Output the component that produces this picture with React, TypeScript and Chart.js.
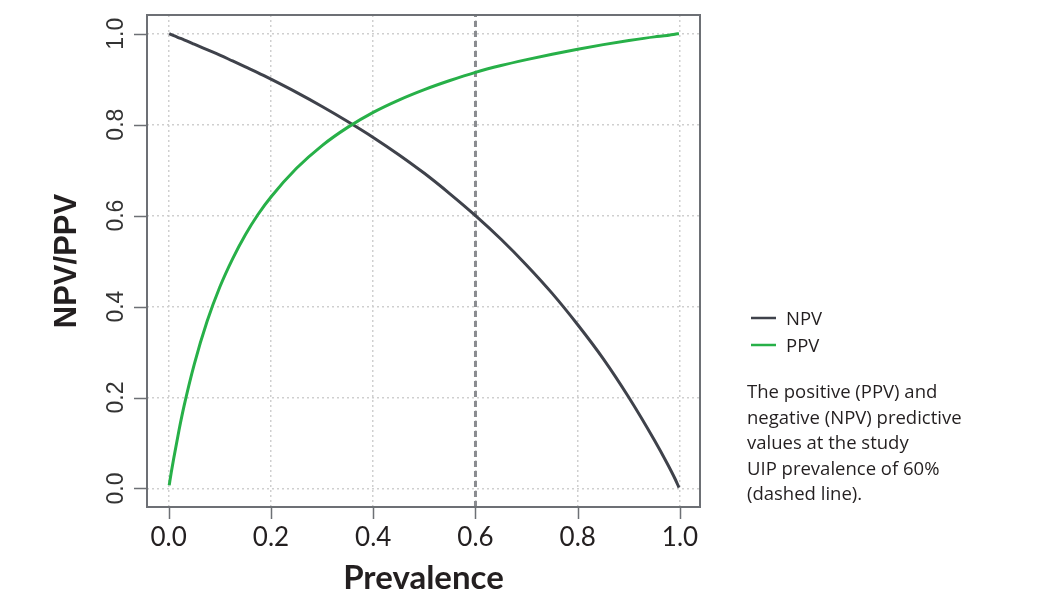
import React, { useEffect, useRef } from "react";
import { Chart, registerables } from "chart.js";

Chart.register(...registerables);

// Prevalence (x) and predictive values
const prevalence = [0.001, 0.005, 0.01, 0.02, 0.03, 0.05, 0.075, 0.1, 0.125, 0.15, 0.175, 0.2, 0.25, 0.3, 0.35, 0.4, 0.45, 0.5, 0.55, 0.6, 0.65, 0.7, 0.75, 0.8, 0.85, 0.9, 0.95, 0.975, 0.99, 0.998];
const npv = [1.0, 0.998, 0.9955, 0.991, 0.9865, 0.977, 0.965, 0.953, 0.94, 0.927, 0.914, 0.9, 0.871, 0.84, 0.807, 0.772, 0.734, 0.693, 0.648, 0.6, 0.548, 0.491, 0.429, 0.36, 0.285, 0.2, 0.106, 0.055, 0.022, 0.002];
const ppv = [0.007, 0.035, 0.067, 0.127, 0.181, 0.273, 0.367, 0.443, 0.505, 0.558, 0.603, 0.641, 0.704, 0.754, 0.794, 0.827, 0.854, 0.877, 0.897, 0.915, 0.93, 0.943, 0.955, 0.966, 0.976, 0.985, 0.993, 0.996, 0.999, 1.0];

const studyPrevalence = 0.6;

const xTicks = [0, 0.2, 0.4, 0.6, 0.8, 1.0];
const xTickLabels = ["0.0", "0.2", "0.4", "0.6", "0.8", "1.0"];
const yTicks = [0, 0.2, 0.4, 0.6, 0.8, 1.0];
const yTickLabels = ["0.0", "0.2", "0.4", "0.6", "0.8", "1.0"];

const seriesNames = ["NPV", "PPV"];
const seriesColors = ["#3f424b", "#27b048"];
const xTitle = "Prevalence";
const yTitle = "NPV/PPV";
const captionLines = [
  "The positive (PPV) and",
  "negative (NPV) predictive",
  "values at the study",
  "UIP prevalence of 60%",
  "(dashed line).",
];

const X_MIN = -0.0424;
const X_MAX = 1.0391;
const Y_MIN = -0.0407;
const Y_MAX = 1.0411;

const decorPlugin = {
  id: "decor",
  afterDraw(chart: any) {
    const ctx = chart.ctx as CanvasRenderingContext2D;
    const { left, right, top, bottom } = chart.chartArea;
    const xs = chart.scales.x;
    const ys = chart.scales.y;
    ctx.save();
    // box
    ctx.strokeStyle = "#6d7075";
    ctx.lineWidth = 2;
    ctx.strokeRect(left, top, right - left, bottom - top);
    // tick marks
    ctx.beginPath();
    xTicks.forEach((v) => {
      const px = Math.round(xs.getPixelForValue(v)) + 0.5;
      ctx.moveTo(px, bottom);
      ctx.lineTo(px, bottom + 12);
    });
    yTicks.forEach((v) => {
      const py = Math.round(ys.getPixelForValue(v)) + 0.5;
      ctx.moveTo(left, py);
      ctx.lineTo(left - 13, py);
    });
    ctx.lineWidth = 1.5;
    ctx.stroke();

    // x tick labels
    ctx.fillStyle = "#231f20";
    ctx.font = "26px Lato";
    ctx.textAlign = "center";
    ctx.textBaseline = "alphabetic";
    xTicks.forEach((v, i) => {
      ctx.fillText(xTickLabels[i], xs.getPixelForValue(v), 546);
    });

    // y tick labels (rotated)
    ctx.fillStyle = "#333333";
    ctx.font = '23px "Liberation Sans"';
    yTicks.forEach((v, i) => {
      const py = ys.getPixelForValue(v);
      ctx.save();
      ctx.translate(123, py);
      ctx.rotate(-Math.PI / 2);
      ctx.fillText(yTickLabels[i], 0, 0);
      ctx.restore();
    });

    // axis titles
    ctx.fillStyle = "#231f20";
    ctx.font = "bold 33px Lato";
    ctx.fillText(xTitle, (left + right) / 2, 589);
    ctx.save();
    ctx.translate(76, (top + bottom) / 2);
    ctx.rotate(-Math.PI / 2);
    ctx.font = 'bold 31px "Liberation Sans"';
    ctx.fillText(yTitle, 0, 0);
    ctx.restore();

    // legend
    ctx.textAlign = "left";
    ctx.font = '18.5px "Open Sans"';
    const legendY = [318, 345];
    seriesNames.forEach((name, i) => {
      ctx.strokeStyle = seriesColors[i];
      ctx.lineWidth = 2.5;
      ctx.beginPath();
      ctx.moveTo(751, legendY[i]);
      ctx.lineTo(776, legendY[i]);
      ctx.stroke();
      ctx.fillStyle = "#231f20";
      ctx.fillText(name, 786, legendY[i] + 7);
    });

    // caption
    captionLines.forEach((line, i) => {
      ctx.fillText(line, 747, 398 + i * 25.5);
    });
    ctx.restore();
  },
};

export default function App() {
  const canvasRef = useRef<HTMLCanvasElement | null>(null);

  useEffect(() => {
    const canvas = canvasRef.current;
    if (!canvas) return;
    const chart = new Chart(canvas, {
      type: "line",
      data: {
        datasets: [
          {
            label: seriesNames[1],
            data: prevalence.map((p, i) => ({ x: p, y: ppv[i] })),
            borderColor: seriesColors[1],
            borderWidth: 3,
            pointRadius: 0,
            cubicInterpolationMode: "monotone",
            fill: false,
            order: 1,
          },
          {
            label: seriesNames[0],
            data: prevalence.map((p, i) => ({ x: p, y: npv[i] })),
            borderColor: seriesColors[0],
            borderWidth: 3,
            pointRadius: 0,
            cubicInterpolationMode: "monotone",
            fill: false,
            order: 2,
          },
          {
            label: "study prevalence",
            data: [
              { x: studyPrevalence, y: Y_MIN },
              { x: studyPrevalence, y: Y_MAX },
            ],
            borderColor: "#8a8c90",
            borderWidth: 3,
            borderDash: [6, 4],
            pointRadius: 0,
            fill: false,
            order: 3,
          },
        ],
      },
      options: {
        animation: false,
        responsive: false,
        maintainAspectRatio: false,
        devicePixelRatio: 1,
        layout: { padding: { left: 147, top: 15, right: 358, bottom: 96 } },
        plugins: { legend: { display: false }, tooltip: { enabled: false } },
        scales: {
          x: {
            type: "linear",
            min: X_MIN,
            max: X_MAX,
            afterBuildTicks: (scale: any) => {
              scale.ticks = xTicks.map((v) => ({ value: v }));
            },
            ticks: { display: false },
            grid: { color: "#cfcfcf", lineWidth: 1.5, drawTicks: false },
            border: { display: false, dash: [2, 3] },
            title: { display: false },
          },
          y: {
            type: "linear",
            min: Y_MIN,
            max: Y_MAX,
            afterBuildTicks: (scale: any) => {
              scale.ticks = yTicks.map((v) => ({ value: v }));
            },
            ticks: { display: false },
            grid: { color: "#cfcfcf", lineWidth: 1.5, drawTicks: false },
            border: { display: false, dash: [2, 3] },
            title: { display: false },
          },
        },
      },
      plugins: [decorPlugin],
    } as any);
    return () => chart.destroy();
  }, []);

  return (
    <canvas
      ref={canvasRef}
      width={1058}
      height={603}
      style={{ position: "fixed", left: 0, top: 0, width: 1058, height: 603, display: "block", background: "#ffffff" }}
    />
  );
}
